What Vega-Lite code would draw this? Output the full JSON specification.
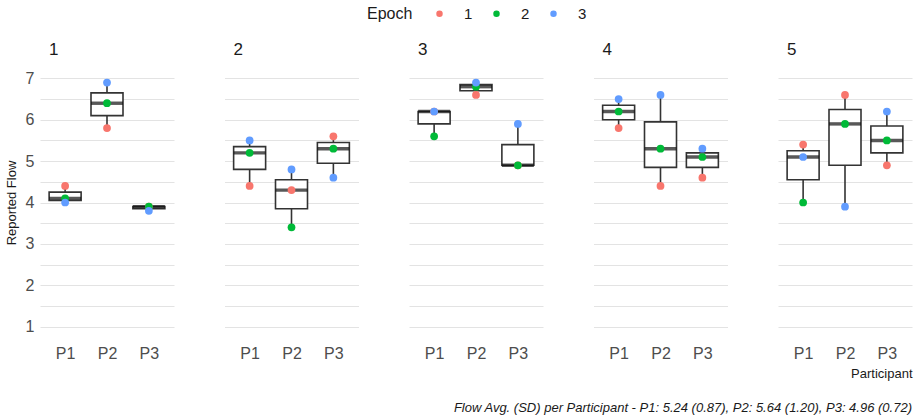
{
  "$schema": "https://vega.github.io/schema/vega-lite/v6.json",
  "background": "white",
  "padding": {"left": 5, "top": 6, "right": 5, "bottom": 5},
  "title": {
    "text": "Flow Avg. (SD) per Participant - P1: 5.24 (0.87), P2: 5.64 (1.20), P3: 4.96 (0.72)",
    "orient": "bottom",
    "anchor": "end",
    "fontSize": 13,
    "fontStyle": "italic",
    "fontWeight": "normal",
    "color": "#1a1a1a",
    "offset": 22,
    "frame": "bounds",
    "dx": 0
  },
  "data": {
    "values": [
      {"Session": 1, "Participant": "P1", "Epoch": "1", "Flow": 4.4},
      {"Session": 1, "Participant": "P1", "Epoch": "2", "Flow": 4.1},
      {"Session": 1, "Participant": "P1", "Epoch": "3", "Flow": 4.0},
      {"Session": 1, "Participant": "P2", "Epoch": "1", "Flow": 5.8},
      {"Session": 1, "Participant": "P2", "Epoch": "2", "Flow": 6.4},
      {"Session": 1, "Participant": "P2", "Epoch": "3", "Flow": 6.9},
      {"Session": 1, "Participant": "P3", "Epoch": "1", "Flow": 3.9},
      {"Session": 1, "Participant": "P3", "Epoch": "2", "Flow": 3.9},
      {"Session": 1, "Participant": "P3", "Epoch": "3", "Flow": 3.8},
      {"Session": 2, "Participant": "P1", "Epoch": "1", "Flow": 4.4},
      {"Session": 2, "Participant": "P1", "Epoch": "2", "Flow": 5.2},
      {"Session": 2, "Participant": "P1", "Epoch": "3", "Flow": 5.5},
      {"Session": 2, "Participant": "P2", "Epoch": "1", "Flow": 4.3},
      {"Session": 2, "Participant": "P2", "Epoch": "2", "Flow": 3.4},
      {"Session": 2, "Participant": "P2", "Epoch": "3", "Flow": 4.8},
      {"Session": 2, "Participant": "P3", "Epoch": "1", "Flow": 5.6},
      {"Session": 2, "Participant": "P3", "Epoch": "2", "Flow": 5.3},
      {"Session": 2, "Participant": "P3", "Epoch": "3", "Flow": 4.6},
      {"Session": 3, "Participant": "P1", "Epoch": "1", "Flow": 6.2},
      {"Session": 3, "Participant": "P1", "Epoch": "2", "Flow": 5.6},
      {"Session": 3, "Participant": "P1", "Epoch": "3", "Flow": 6.2},
      {"Session": 3, "Participant": "P2", "Epoch": "1", "Flow": 6.6},
      {"Session": 3, "Participant": "P2", "Epoch": "2", "Flow": 6.8},
      {"Session": 3, "Participant": "P2", "Epoch": "3", "Flow": 6.9},
      {"Session": 3, "Participant": "P3", "Epoch": "1", "Flow": 4.9},
      {"Session": 3, "Participant": "P3", "Epoch": "2", "Flow": 4.9},
      {"Session": 3, "Participant": "P3", "Epoch": "3", "Flow": 5.9},
      {"Session": 4, "Participant": "P1", "Epoch": "1", "Flow": 5.8},
      {"Session": 4, "Participant": "P1", "Epoch": "2", "Flow": 6.2},
      {"Session": 4, "Participant": "P1", "Epoch": "3", "Flow": 6.5},
      {"Session": 4, "Participant": "P2", "Epoch": "1", "Flow": 4.4},
      {"Session": 4, "Participant": "P2", "Epoch": "2", "Flow": 5.3},
      {"Session": 4, "Participant": "P2", "Epoch": "3", "Flow": 6.6},
      {"Session": 4, "Participant": "P3", "Epoch": "1", "Flow": 4.6},
      {"Session": 4, "Participant": "P3", "Epoch": "2", "Flow": 5.1},
      {"Session": 4, "Participant": "P3", "Epoch": "3", "Flow": 5.3},
      {"Session": 5, "Participant": "P1", "Epoch": "1", "Flow": 5.4},
      {"Session": 5, "Participant": "P1", "Epoch": "2", "Flow": 4.0},
      {"Session": 5, "Participant": "P1", "Epoch": "3", "Flow": 5.1},
      {"Session": 5, "Participant": "P2", "Epoch": "1", "Flow": 6.6},
      {"Session": 5, "Participant": "P2", "Epoch": "2", "Flow": 5.9},
      {"Session": 5, "Participant": "P2", "Epoch": "3", "Flow": 3.9},
      {"Session": 5, "Participant": "P3", "Epoch": "1", "Flow": 4.9},
      {"Session": 5, "Participant": "P3", "Epoch": "2", "Flow": 5.5},
      {"Session": 5, "Participant": "P3", "Epoch": "3", "Flow": 6.2}
    ]
  },
  "spacing": 50.5,
  "hconcat": [
    {
      "title": {"text": "1"},
      "width": 134, "height": 273,
      "transform": [{"filter": "datum.Session == 1"}],
      "layer": [
        {
          "mark": {"type": "boxplot", "extent": "min-max", "size": 32,
            "box": {"fill": "white", "stroke": "#333333", "strokeWidth": 1.6},
            "median": {"color": "#111111", "thickness": 3.4},
            "rule": {"color": "#333333", "strokeWidth": 1.6}},
          "encoding": {
            "x": {"field": "Participant", "type": "nominal", "scale": {"type": "point", "padding": 0.6}, "axis": {"title": null}},
            "y": {"field": "Flow", "type": "quantitative", "scale": {"domain": [0.7, 7.3], "nice": false, "zero": false},
              "axis": {"title": "Reported Flow", "values": [1, 1.5, 2, 2.5, 3, 3.5, 4, 4.5, 5, 5.5, 6, 6.5, 7],
                "labelExpr": "datum.value % 1 === 0 ? format(datum.value, 'd') : ''"}}
          }
        },
        {
          "mark": {"type": "circle", "size": 60, "opacity": 1},
          "encoding": {
            "x": {"field": "Participant", "type": "nominal", "axis": {"title": null}},
            "y": {"field": "Flow", "type": "quantitative",
              "axis": {"title": "Reported Flow", "values": [1, 1.5, 2, 2.5, 3, 3.5, 4, 4.5, 5, 5.5, 6, 6.5, 7],
                "labelExpr": "datum.value % 1 === 0 ? format(datum.value, 'd') : ''"}},
            "color": {"field": "Epoch", "type": "nominal"},
            "order": {"field": "Epoch"}
          }
        }
      ]
    },
    {
      "title": {"text": "2"},
      "width": 134, "height": 273,
      "transform": [{"filter": "datum.Session == 2"}],
      "layer": [
        {
          "mark": {"type": "boxplot", "extent": "min-max", "size": 32,
            "box": {"fill": "white", "stroke": "#333333", "strokeWidth": 1.6},
            "median": {"color": "#111111", "thickness": 3.4},
            "rule": {"color": "#333333", "strokeWidth": 1.6}},
          "encoding": {
            "x": {"field": "Participant", "type": "nominal", "scale": {"type": "point", "padding": 0.6}, "axis": {"title": null}},
            "y": {"field": "Flow", "type": "quantitative", "scale": {"domain": [0.7, 7.3], "nice": false, "zero": false},
              "axis": {"title": null, "labels": false, "values": [1, 1.5, 2, 2.5, 3, 3.5, 4, 4.5, 5, 5.5, 6, 6.5, 7]}}
          }
        },
        {
          "mark": {"type": "circle", "size": 60, "opacity": 1},
          "encoding": {
            "x": {"field": "Participant", "type": "nominal", "axis": {"title": null}},
            "y": {"field": "Flow", "type": "quantitative",
              "axis": {"title": null, "labels": false, "values": [1, 1.5, 2, 2.5, 3, 3.5, 4, 4.5, 5, 5.5, 6, 6.5, 7]}},
            "color": {"field": "Epoch", "type": "nominal"},
            "order": {"field": "Epoch"}
          }
        }
      ]
    },
    {
      "title": {"text": "3"},
      "width": 134, "height": 273,
      "transform": [{"filter": "datum.Session == 3"}],
      "layer": [
        {
          "mark": {"type": "boxplot", "extent": "min-max", "size": 32,
            "box": {"fill": "white", "stroke": "#333333", "strokeWidth": 1.6},
            "median": {"color": "#111111", "thickness": 3.4},
            "rule": {"color": "#333333", "strokeWidth": 1.6}},
          "encoding": {
            "x": {"field": "Participant", "type": "nominal", "scale": {"type": "point", "padding": 0.6}, "axis": {"title": null}},
            "y": {"field": "Flow", "type": "quantitative", "scale": {"domain": [0.7, 7.3], "nice": false, "zero": false},
              "axis": {"title": null, "labels": false, "values": [1, 1.5, 2, 2.5, 3, 3.5, 4, 4.5, 5, 5.5, 6, 6.5, 7]}}
          }
        },
        {
          "mark": {"type": "circle", "size": 60, "opacity": 1},
          "encoding": {
            "x": {"field": "Participant", "type": "nominal", "axis": {"title": null}},
            "y": {"field": "Flow", "type": "quantitative",
              "axis": {"title": null, "labels": false, "values": [1, 1.5, 2, 2.5, 3, 3.5, 4, 4.5, 5, 5.5, 6, 6.5, 7]}},
            "color": {"field": "Epoch", "type": "nominal"},
            "order": {"field": "Epoch"}
          }
        }
      ]
    },
    {
      "title": {"text": "4"},
      "width": 134, "height": 273,
      "transform": [{"filter": "datum.Session == 4"}],
      "layer": [
        {
          "mark": {"type": "boxplot", "extent": "min-max", "size": 32,
            "box": {"fill": "white", "stroke": "#333333", "strokeWidth": 1.6},
            "median": {"color": "#111111", "thickness": 3.4},
            "rule": {"color": "#333333", "strokeWidth": 1.6}},
          "encoding": {
            "x": {"field": "Participant", "type": "nominal", "scale": {"type": "point", "padding": 0.6}, "axis": {"title": null}},
            "y": {"field": "Flow", "type": "quantitative", "scale": {"domain": [0.7, 7.3], "nice": false, "zero": false},
              "axis": {"title": null, "labels": false, "values": [1, 1.5, 2, 2.5, 3, 3.5, 4, 4.5, 5, 5.5, 6, 6.5, 7]}}
          }
        },
        {
          "mark": {"type": "circle", "size": 60, "opacity": 1},
          "encoding": {
            "x": {"field": "Participant", "type": "nominal", "axis": {"title": null}},
            "y": {"field": "Flow", "type": "quantitative",
              "axis": {"title": null, "labels": false, "values": [1, 1.5, 2, 2.5, 3, 3.5, 4, 4.5, 5, 5.5, 6, 6.5, 7]}},
            "color": {"field": "Epoch", "type": "nominal"},
            "order": {"field": "Epoch"}
          }
        }
      ]
    },
    {
      "title": {"text": "5"},
      "width": 134, "height": 273,
      "transform": [{"filter": "datum.Session == 5"}],
      "layer": [
        {
          "mark": {"type": "boxplot", "extent": "min-max", "size": 32,
            "box": {"fill": "white", "stroke": "#333333", "strokeWidth": 1.6},
            "median": {"color": "#111111", "thickness": 3.4},
            "rule": {"color": "#333333", "strokeWidth": 1.6}},
          "encoding": {
            "x": {"field": "Participant", "type": "nominal", "scale": {"type": "point", "padding": 0.6},
              "axis": {"title": "Participant", "titleAnchor": "end"}},
            "y": {"field": "Flow", "type": "quantitative", "scale": {"domain": [0.7, 7.3], "nice": false, "zero": false},
              "axis": {"title": null, "labels": false, "values": [1, 1.5, 2, 2.5, 3, 3.5, 4, 4.5, 5, 5.5, 6, 6.5, 7]}}
          }
        },
        {
          "mark": {"type": "circle", "size": 60, "opacity": 1},
          "encoding": {
            "x": {"field": "Participant", "type": "nominal", "axis": {"title": "Participant", "titleAnchor": "end"}},
            "y": {"field": "Flow", "type": "quantitative",
              "axis": {"title": null, "labels": false, "values": [1, 1.5, 2, 2.5, 3, 3.5, 4, 4.5, 5, 5.5, 6, 6.5, 7]}},
            "color": {"field": "Epoch", "type": "nominal"},
            "order": {"field": "Epoch"}
          }
        }
      ]
    }
  ],
  "resolve": {"scale": {"color": "shared"}},
  "config": {
    "font": "Liberation Sans",
    "view": {"stroke": null},
    "range": {"category": ["#F8766D", "#00BA38", "#619CFF"]},
    "title": {"fontSize": 17, "fontWeight": "normal", "anchor": "start", "frame": "group", "color": "#1a1a1a", "offset": 7, "dx": 9},
    "axis": {
      "domain": false, "ticks": false,
      "gridColor": "#e3e3e3", "gridWidth": 1,
      "labelFontSize": 16, "labelColor": "#4d4d4d", "labelPadding": 6,
      "titleFontSize": 13, "titleFontWeight": "normal", "titleColor": "#1a1a1a"
    },
    "axisY": {"titlePadding": 7},
    "axisX": {"labelAngle": 0, "titlePadding": 6},
    "legend": {
      "orient": "none", "legendX": 327, "legendY": -60, "direction": "horizontal",
      "titleOrient": "left", "titleFontSize": 16, "titleFontWeight": "normal", "titleColor": "#1a1a1a",
      "labelFontSize": 15, "labelColor": "#1a1a1a", "symbolType": "circle", "symbolSize": 42,
      "symbolStrokeWidth": 0, "symbolOpacity": 1, "labelOffset": 17, "columnPadding": 16, "titlePadding": 19
    }
  }
}
